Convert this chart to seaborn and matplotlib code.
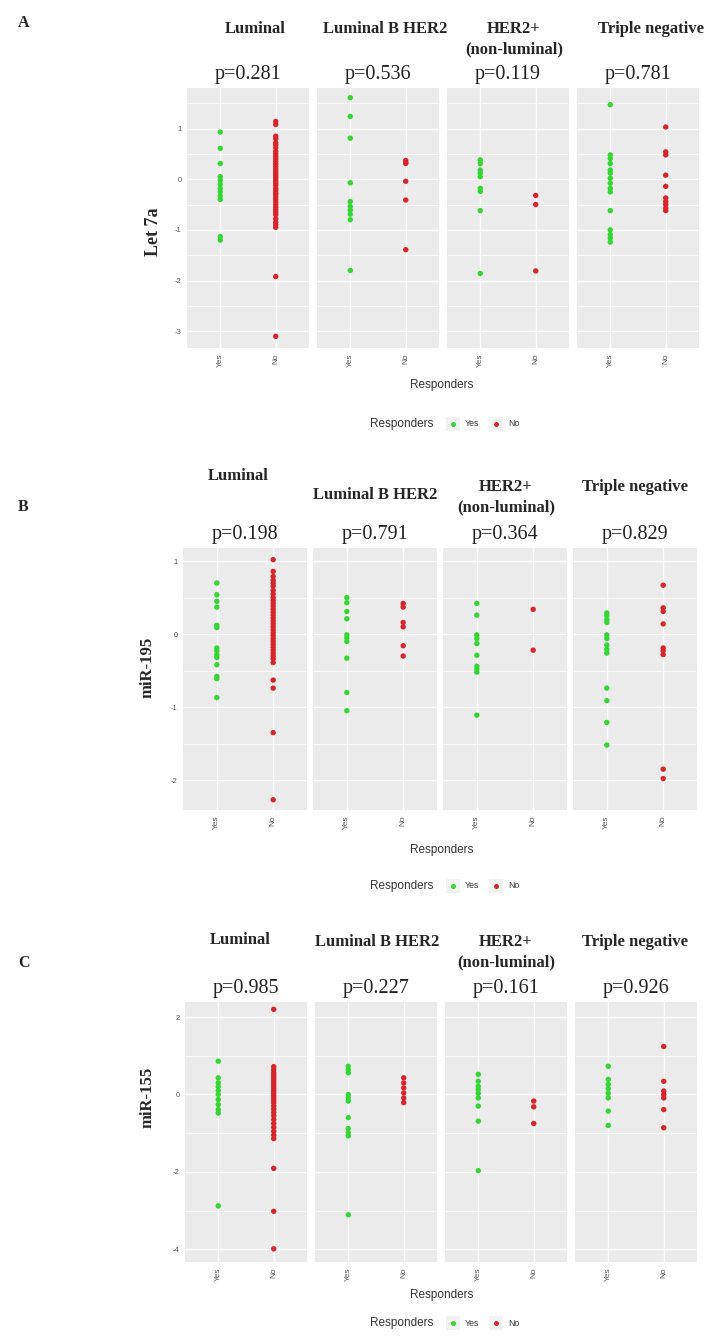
import numpy as np
import pandas as pd
import matplotlib
matplotlib.use("Agg")
import matplotlib.pyplot as plt
from matplotlib.ticker import MultipleLocator
from matplotlib.lines import Line2D
from matplotlib.patches import Rectangle
import seaborn as sns

# categories
subtypes = ["Luminal", "Luminal B HER2", "HER2+\n(non-luminal)", "Triple negative"]
groups = ["Yes", "No"]

# p-values per marker (one per subtype)
let7a_p = ["p=0.281", "p=0.536", "p=0.119", "p=0.781"]
mir195_p = ["p=0.198", "p=0.791", "p=0.364", "p=0.829"]
mir155_p = ["p=0.985", "p=0.227", "p=0.161", "p=0.926"]

# Let 7a values, one list per subtype
let7a_yes = [
    [0.93, 0.61, 0.31, 0.05, -0.02, -0.1, -0.18, -0.25, -0.33, -0.4, -1.13, -1.2],
    [1.61, 1.24, 0.81, -0.07, -0.44, -0.54, -0.61, -0.69, -0.8, -1.8],
    [0.38, 0.31, 0.18, 0.12, 0.05, -0.18, -0.24, -0.62, -1.86],
    [1.47, 0.48, 0.41, 0.31, 0.18, 0.12, 0.02, -0.08, -0.18, -0.25, -0.62, -1.0, -1.09, -1.16, -1.24],
]
let7a_no = [
    [1.14, 1.08, 0.85, 0.8, 0.72, 0.68, 0.62, 0.55, 0.5, 0.45, 0.4, 0.35, 0.3, 0.25, 0.2, 0.16,
     0.12, 0.08, 0.04, 0.0, -0.04, -0.08, -0.12, -0.18, -0.22, -0.27, -0.3, -0.35, -0.4, -0.45,
     -0.5, -0.55, -0.6, -0.65, -0.7, -0.78, -0.85, -0.9, -0.95, -1.92, -3.1],
    [0.37, 0.33, 0.31, -0.04, -0.41, -1.39],
    [-0.32, -0.5, -1.81],
    [1.03, 0.54, 0.48, 0.08, -0.14, -0.37, -0.44, -0.5, -0.57, -0.62],
]

# miR-195 values
mir195_yes = [
    [0.70, 0.54, 0.45, 0.37, 0.12, 0.09, -0.19, -0.23, -0.28, -0.32, -0.42, -0.58, -0.61, -0.87],
    [0.5, 0.43, 0.31, 0.21, -0.01, -0.05, -0.1, -0.33, -0.8, -1.05],
    [0.42, 0.26, -0.01, -0.06, -0.13, -0.29, -0.44, -0.48, -0.52, -1.11],
    [0.29, 0.25, 0.2, 0.16, -0.01, -0.06, -0.15, -0.21, -0.26, -0.74, -0.91, -1.21, -1.52],
]
mir195_no = [
    [1.02, 0.86, 0.79, 0.74, 0.7, 0.66, 0.6, 0.55, 0.5, 0.46, 0.42, 0.38, 0.34, 0.3, 0.26, 0.22,
     0.18, 0.14, 0.1, 0.06, 0.02, -0.02, -0.06, -0.1, -0.14, -0.18, -0.22, -0.26, -0.3, -0.34,
     -0.39, -0.63, -0.74, -1.35, -2.27],
    [0.42, 0.37, 0.16, 0.1, -0.16, -0.3],
    [0.34, -0.22],
    [0.67, 0.36, 0.31, 0.14, -0.19, -0.23, -0.28, -1.85, -1.98],
]

# miR-155 values
mir155_yes = [
    [0.86, 0.43, 0.3, 0.2, 0.1, 0.0, -0.13, -0.26, -0.39, -0.48, -2.88],
    [0.73, 0.64, 0.56, 0.0, -0.09, -0.17, -0.6, -0.88, -0.99, -1.07, -3.11],
    [0.52, 0.34, 0.21, 0.13, 0.03, -0.09, -0.3, -0.69, -1.97],
    [0.73, 0.39, 0.26, 0.15, 0.03, -0.09, -0.43, -0.8],
]
mir155_no = [
    [2.2, 0.72, 0.64, 0.56, 0.5, 0.44, 0.38, 0.32, 0.26, 0.2, 0.14, 0.08, 0.02, -0.04, -0.1,
     -0.16, -0.22, -0.3, -0.38, -0.46, -0.55, -0.65, -0.75, -0.85, -0.95, -1.05, -1.14, -1.91,
     -3.02, -3.99],
    [0.43, 0.3, 0.17, 0.04, -0.09, -0.21],
    [-0.17, -0.32, -0.75],
    [1.24, 0.34, 0.09, 0.0, -0.09, -0.39, -0.86],
]

palette = {"Yes": "#33d633", "No": "#d8252b"}
SERIF = "Liberation Serif"
SANS = "Liberation Sans"

sns.set_style("darkgrid", {"axes.facecolor": "#EBEBEB", "grid.color": "white"})
plt.rcParams["axes.unicode_minus"] = False
plt.rcParams["font.family"] = [SANS, "DejaVu Sans"]

W, H = 707, 1342
fig = plt.figure(figsize=(W / 100, H / 100), dpi=100)
fig.patch.set_facecolor("white")


def fx(x):
    return x / W


def fy(y):
    return 1 - y / H


def make_long(yes_lists, no_lists):
    rows = []
    for s, (yv, nv) in enumerate(zip(yes_lists, no_lists)):
        for v in yv:
            rows.append((subtypes[s], "Yes", v))
        for v in nv:
            rows.append((subtypes[s], "No", v))
    return pd.DataFrame(rows, columns=["Subtype", "Responders", "value"])


# layout for each row of facets (pixel positions)
rows_cfg = [
    dict(df=make_long(let7a_yes, let7a_no), pvals=let7a_p, letter="A", letter_y=23,
         ylabel="Let 7a", ylab_xy=(153, 232), ylab_size=13,
         top=88, bottom=348, left0=187, width=122, ylim=(-3.33, 1.80),
         ticks=[-3, -2, -1, 0, 1], minor=0.5,
         title_y=[29, 29, 29, 29], title_dx=[7, 7, 6, 13], p_y=75,
         xlab_y=385, leg_y=424),
    dict(df=make_long(mir195_yes, mir195_no), pvals=mir195_p, letter="B", letter_y=507,
         ylabel="miR-195", ylab_xy=(148, 667), ylab_size=12,
         top=548, bottom=810, left0=183, width=124, ylim=(-2.41, 1.18),
         ticks=[-2, -1, 0, 1], minor=0.5,
         title_y=[476, 495, 487, 487], title_dx=[-7, 0, 1, 0], p_y=535,
         xlab_y=850, leg_y=886),
    dict(df=make_long(mir155_yes, mir155_no), pvals=mir155_p, letter="C", letter_y=963,
         ylabel="miR-155", ylab_xy=(148, 1097), ylab_size=12,
         top=1002, bottom=1262, left0=185, width=122, ylim=(-4.33, 2.39),
         ticks=[-4, -2, 0, 2], minor=1.0,
         title_y=[940, 942, 942, 942], title_dx=[-6, 1, 0, -1], p_y=988,
         xlab_y=1295, leg_y=1323),
]
step = 130

for cfg in rows_cfg:
    df = cfg["df"]
    for i, st in enumerate(subtypes):
        left = cfg["left0"] + i * step
        ax = fig.add_axes([fx(left), fy(cfg["bottom"]), cfg["width"] / W,
                           (cfg["bottom"] - cfg["top"]) / H])
        sub = df[df["Subtype"] == st]
        sns.stripplot(data=sub, x="Responders", y="value", hue="Responders",
                      order=groups, hue_order=groups, palette=palette, jitter=False,
                      size=3.9, linewidth=0, legend=False, ax=ax, zorder=3)
        ax.set_xlim(-0.6, 1.6)
        ax.set_ylim(*cfg["ylim"])
        ax.set_yticks(cfg["ticks"])
        ax.yaxis.set_minor_locator(MultipleLocator(cfg["minor"]))
        ax.grid(True, which="major", color="white", linewidth=1.0)
        ax.grid(True, which="minor", axis="y", color="white", linewidth=0.5)
        ax.xaxis.grid(True, which="major", color="white", linewidth=1.0)
        ax.set_axisbelow(True)
        ax.set_xlabel("")
        ax.set_ylabel("")
        ax.tick_params(axis="both", which="major", length=2.5, width=0.6,
                       color="#444444", labelcolor="#555555", pad=1.5)
        ax.tick_params(axis="y", which="minor", length=0)
        ax.tick_params(axis="x", labelsize=6, labelrotation=90)
        ax.tick_params(axis="y", labelsize=5.5)
        if i > 0:
            ax.tick_params(axis="y", labelleft=False, length=0)
        for sp in ax.spines.values():
            sp.set_visible(False)

        cx = left + cfg["width"] / 2
        # facet title and p-value
        lines = st.split("\n")
        fig.text(fx(cx + cfg["title_dx"][i]), fy(cfg["title_y"][i]), lines[0],
                 family=SERIF, weight="bold", fontsize=12, ha="center", va="center")
        if len(lines) > 1:
            fig.text(fx(cx + cfg["title_dx"][i]), fy(cfg["title_y"][i] + 20), lines[1],
                     family=SERIF, weight="bold", fontsize=12, ha="center", va="center")
        fig.text(fx(cx), fy(cfg["p_y"]), cfg["pvals"][i], family=SERIF,
                 fontsize=14.5, ha="center", va="center", color="#222222")

    # panel letter
    fig.text(fx(18), fy(cfg["letter_y"]), cfg["letter"], family=SERIF, weight="bold",
             fontsize=11.5, ha="left", va="center")
    # y label
    fig.text(fx(cfg["ylab_xy"][0]), fy(cfg["ylab_xy"][1]), cfg["ylabel"], family=SERIF,
             weight="bold", fontsize=cfg["ylab_size"], rotation=90, ha="center", va="center")
    # x label
    fig.text(fx(442), fy(cfg["xlab_y"]), "Responders", fontsize=8.5, color="#333333",
             ha="center", va="center")
    # legend
    ly = cfg["leg_y"]
    fig.text(fx(402), fy(ly), "Responders", fontsize=8.5, color="#333333",
             ha="center", va="center")
    for kx, g, tx in [(453, "Yes", 465), (496, "No", 508)]:
        fig.add_artist(Rectangle((fx(kx - 7), fy(ly + 7)), 14 / W, 14 / H,
                                 transform=fig.transFigure, facecolor="#F2F2F2",
                                 edgecolor="none"))
        fig.add_artist(Line2D([fx(kx)], [fy(ly)], marker="o", markersize=3.6,
                              color=palette[g], markeredgewidth=0,
                              transform=fig.transFigure))
        fig.text(fx(tx), fy(ly), g, fontsize=6.3, color="#333333", ha="left", va="center")

fig.savefig("out.png", dpi=100, facecolor="white")
